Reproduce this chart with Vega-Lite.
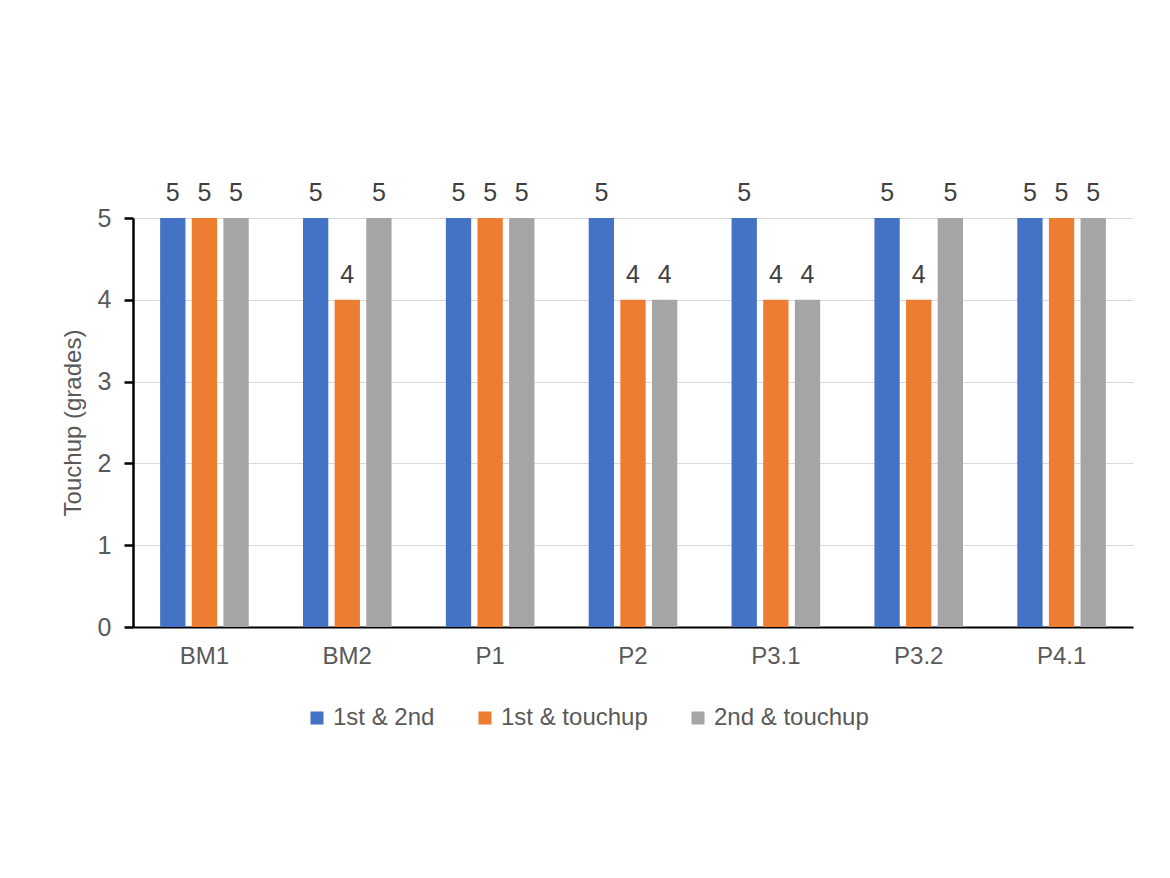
{
  "$schema": "https://vega.github.io/schema/vega-lite/v6.json",
  "width": 1000,
  "height": 409,
  "autosize": {"type": "none"},
  "padding": {"left": 133, "top": 218, "right": 37, "bottom": 251},
  "background": "white",
  "config": {
    "font": "Liberation Sans",
    "view": {"stroke": null}
  },
  "data": {
    "values": [
      {"sample": "BM1", "pair": "1st & 2nd", "grade": 5},
      {"sample": "BM1", "pair": "1st & touchup", "grade": 5},
      {"sample": "BM1", "pair": "2nd & touchup", "grade": 5},
      {"sample": "BM2", "pair": "1st & 2nd", "grade": 5},
      {"sample": "BM2", "pair": "1st & touchup", "grade": 4},
      {"sample": "BM2", "pair": "2nd & touchup", "grade": 5},
      {"sample": "P1", "pair": "1st & 2nd", "grade": 5},
      {"sample": "P1", "pair": "1st & touchup", "grade": 5},
      {"sample": "P1", "pair": "2nd & touchup", "grade": 5},
      {"sample": "P2", "pair": "1st & 2nd", "grade": 5},
      {"sample": "P2", "pair": "1st & touchup", "grade": 4},
      {"sample": "P2", "pair": "2nd & touchup", "grade": 4},
      {"sample": "P3.1", "pair": "1st & 2nd", "grade": 5},
      {"sample": "P3.1", "pair": "1st & touchup", "grade": 4},
      {"sample": "P3.1", "pair": "2nd & touchup", "grade": 4},
      {"sample": "P3.2", "pair": "1st & 2nd", "grade": 5},
      {"sample": "P3.2", "pair": "1st & touchup", "grade": 4},
      {"sample": "P3.2", "pair": "2nd & touchup", "grade": 5},
      {"sample": "P4.1", "pair": "1st & 2nd", "grade": 5},
      {"sample": "P4.1", "pair": "1st & touchup", "grade": 5},
      {"sample": "P4.1", "pair": "2nd & touchup", "grade": 5}
    ]
  },
  "encoding": {
    "x": {
      "field": "sample",
      "type": "nominal",
      "sort": null,
      "scale": {"paddingInner": 0.38, "paddingOuter": 0.19},
      "axis": {
        "title": null,
        "labelAngle": 0,
        "labelFontSize": 24,
        "labelColor": "#595959",
        "labelPadding": 17,
        "ticks": false,
        "domainColor": "black",
        "domainWidth": 2
      }
    },
    "xOffset": {
      "field": "pair",
      "type": "nominal",
      "sort": null,
      "scale": {"paddingInner": 0.2, "paddingOuter": 0}
    },
    "y": {
      "field": "grade",
      "type": "quantitative",
      "scale": {"domain": [0, 5], "nice": false},
      "axis": {
        "title": "Touchup (grades)",
        "titleFontSize": 24,
        "titleFontWeight": "normal",
        "titleColor": "#595959",
        "titlePadding": 12,
        "values": [0, 1, 2, 3, 4, 5],
        "labelFontSize": 25,
        "labelColor": "#595959",
        "labelPadding": 13,
        "domainColor": "black",
        "domainWidth": 2.5,
        "tickColor": "black",
        "tickWidth": 2.5,
        "tickSize": 9,
        "gridColor": "#d9d9d9",
        "gridWidth": 1
      }
    }
  },
  "layer": [
    {
      "mark": {"type": "bar"},
      "encoding": {
        "color": {
          "field": "pair",
          "type": "nominal",
          "sort": null,
          "scale": {
            "domain": ["1st & 2nd", "1st & touchup", "2nd & touchup"],
            "range": ["#4472C4", "#ED7D31", "#A5A5A5"]
          },
          "legend": {
            "title": null,
            "orient": "none",
            "legendX": 172,
            "legendY": 488,
            "direction": "horizontal",
            "symbolType": "square",
            "symbolSize": 170,
            "symbolStrokeWidth": 0,
            "labelFontSize": 24,
            "labelLimit": 400,
            "labelColor": "#595959",
            "columnPadding": 38,
            "labelOffset": 4
          }
        }
      }
    },
    {
      "mark": {
        "type": "text",
        "baseline": "alphabetic",
        "dy": -17,
        "fontSize": 25,
        "color": "#404040"
      },
      "encoding": {
        "text": {"field": "grade", "type": "quantitative"}
      }
    }
  ]
}
